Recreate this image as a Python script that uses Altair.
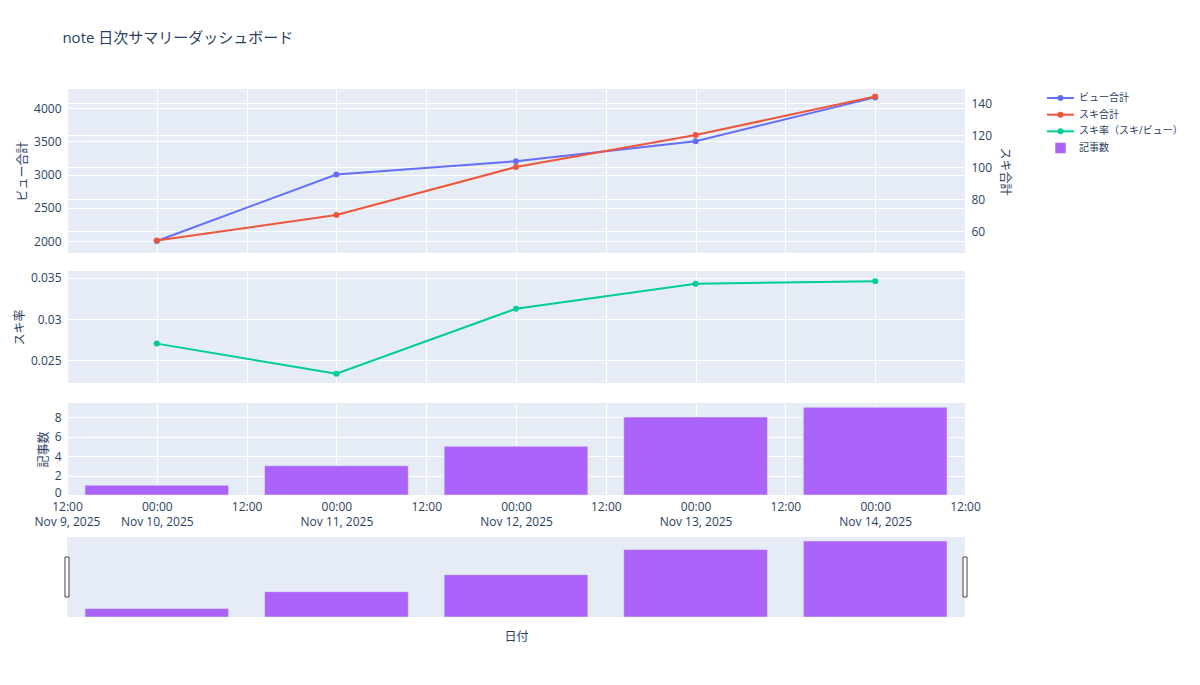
import altair as alt
import pandas as pd

# ---- data ----
dates = ["2025-11-10T00:00:00Z", "2025-11-11T00:00:00Z", "2025-11-12T00:00:00Z",
         "2025-11-13T00:00:00Z", "2025-11-14T00:00:00Z"]
views = [2000, 3000, 3200, 3500, 4160]
likes = [54, 70, 100, 120, 144]
articles = [1, 3, 5, 8, 9]

series_names = ["ビュー合計", "スキ合計", "スキ率（スキ/ビュー）", "記事数"]
series_kinds = ["line", "line", "line", "box"]
series_colors = ["#636EFA", "#EF553B", "#00CC96", "#AB63FA"]

view_ticks = [2000, 2500, 3000, 3500, 4000]
like_ticks = [60, 80, 100, 120, 140]
rate_ticks = [0.025, 0.03, 0.035]
article_ticks = [0, 2, 4, 6, 8]

tick_times = ["2025-11-09T12:00:00Z", "2025-11-10T00:00:00Z", "2025-11-10T12:00:00Z",
              "2025-11-11T00:00:00Z", "2025-11-11T12:00:00Z", "2025-11-12T00:00:00Z",
              "2025-11-12T12:00:00Z", "2025-11-13T00:00:00Z", "2025-11-13T12:00:00Z",
              "2025-11-14T00:00:00Z", "2025-11-14T12:00:00Z"]

df = pd.DataFrame({"date": dates, "views": views, "likes": likes, "articles": articles})
df["rate"] = df["likes"] / df["views"]

def ms(s):
    return int(pd.Timestamp(s).value // 10**6)

tick_ms = [ms(t) for t in tick_times]
x_domain = [tick_ms[0], tick_ms[-1]]

FONT = "Open Sans, Noto Sans CJK JP, sans-serif"
TXT = "#2a3f5f"
BG = "#E5ECF6"
W = 898

xscale = alt.Scale(type="utc", domain=x_domain, nice=False)
x_nolabel = alt.Axis(values=tick_ms, labels=False, grid=True, title=None)

label_expr = (
    "(utchours(datum.value) == 0 || (utchours(datum.value) == 12 && utcdate(datum.value) == 9)) ? "
    "[utcFormat(datum.value, '%H:%M'), utcFormat(datum.value, '%b %-d, %Y')] : "
    "utcFormat(datum.value, '%H:%M')"
)
x_label = alt.Axis(values=tick_ms, labelExpr=label_expr, grid=True, title=None,
                   labelPadding=6, labelLineHeight=15, labelAngle=0,
                   labelOverlap=False, labelFlush=False)

base = alt.Chart(df)

# ---- panel 1 ----
views_line = base.mark_line(
    color=series_colors[0], strokeWidth=2,
    point=alt.OverlayMarkDef(color=series_colors[0], size=36, filled=True, opacity=1),
).encode(
    x=alt.X("date:T", scale=xscale, axis=x_nolabel),
    y=alt.Y("views:Q", scale=alt.Scale(domain=[1820, 4286], nice=False, zero=False),
            axis=alt.Axis(values=view_ticks, format="d", title="ビュー合計", grid=True)),
)
likes_line = base.mark_line(
    color=series_colors[1], strokeWidth=2,
    point=alt.OverlayMarkDef(color=series_colors[1], size=36, filled=True, opacity=1),
).encode(
    x=alt.X("date:T", scale=xscale, axis=x_nolabel),
    y=alt.Y("likes:Q", scale=alt.Scale(domain=[46.25, 148.75], nice=False, zero=False),
            axis=alt.Axis(values=like_ticks, format="d", title="スキ合計", orient="right",
                          grid=True, titlePadding=6)),
)
p1 = alt.layer(views_line, likes_line).resolve_scale(y="independent").properties(
    width=W, height=164)

# ---- panel 2 ----
p2 = base.mark_line(
    color=series_colors[2], strokeWidth=2,
    point=alt.OverlayMarkDef(color=series_colors[2], size=36, filled=True, opacity=1),
).encode(
    x=alt.X("date:T", scale=xscale, axis=x_nolabel),
    y=alt.Y("rate:Q", scale=alt.Scale(domain=[0.0222, 0.03585], nice=False, zero=False),
            axis=alt.Axis(values=rate_ticks, format=".3~f", title="スキ率")),
).properties(width=W, height=112)

# ---- panel 3 ----
bars = base.transform_calculate(
    x0="+toDate(datum.date) - 0.4 * 86400000",
    x1="+toDate(datum.date) + 0.4 * 86400000",
)
p3 = bars.mark_rect(color=series_colors[3], stroke=BG, strokeWidth=0.5, opacity=1).encode(
    x=alt.X("x0:T", scale=xscale, axis=x_label),
    x2="x1:T",
    y=alt.Y("articles:Q", scale=alt.Scale(domain=[0, 9.44], nice=False),
            axis=alt.Axis(values=article_ticks, format="d", title="記事数",
                          labelOffset={"condition": {"test": "datum.value == 0",
                                                     "value": -3},
                                       "value": 0})),
    y2=alt.datum(0),
).properties(width=W, height=92)

# ---- range slider ----
slider_bars = bars.mark_rect(color=series_colors[3], stroke=BG, strokeWidth=0.5, opacity=1).encode(
    x=alt.X("x0:T", scale=xscale,
            axis=alt.Axis(labels=False, grid=False, title="日付", titlePadding=14)),
    x2="x1:T",
    y=alt.Y("articles:Q", scale=alt.Scale(domain=[0, 9.47], nice=False), axis=None),
    y2=alt.datum(0),
)
handles_df = pd.DataFrame({"edge": [x_domain[0], x_domain[1]]})
handles = alt.Chart(handles_df).mark_rect(
    fill="white", stroke="#444", strokeWidth=1, xOffset=-2, x2Offset=2
).encode(
    x=alt.X("edge:T", scale=xscale),
    x2="edge:T",
    y=alt.value(20),
    y2=alt.value(60),
)
slider = alt.layer(slider_bars, handles).properties(width=W, height=80)

# ---- legend ----
legend_df = pd.DataFrame({"name": series_names, "kind": series_kinds,
                          "idx": list(range(len(series_names)))})
color_scale = alt.Scale(domain=series_names, range=series_colors)
ly = alt.Y("idx:Q", scale=alt.Scale(domain=[0, 3], range=[9, 59]), axis=None)
lbase = alt.Chart(legend_df)
leg_rule = lbase.transform_filter("datum.kind == 'line'").mark_rule(strokeWidth=2).encode(
    x=alt.value(17), x2=alt.value(44), y=ly,
    color=alt.Color("name:N", scale=color_scale, legend=None))
leg_pt = lbase.transform_filter("datum.kind == 'line'").mark_point(
    filled=True, size=36, opacity=1).encode(
    x=alt.value(30.5), y=ly, color=alt.Color("name:N", scale=color_scale, legend=None))
leg_sq = lbase.transform_filter("datum.kind == 'box'").mark_square(
    size=110, opacity=1).encode(
    x=alt.value(30.5), y=ly, color=alt.Color("name:N", scale=color_scale, legend=None))
leg_txt = lbase.mark_text(align="left", baseline="middle", fontSize=10, font=FONT,
                          color=TXT).encode(
    x=alt.value(49), y=ly, text="name:N")
legend = alt.layer(leg_rule, leg_pt, leg_sq, leg_txt).properties(
    width=140, height=70, view=alt.ViewBackground(fill="white", stroke="white"))

top = alt.vconcat(alt.vconcat(p1, p2, spacing=18), p3, spacing=20)
left = alt.vconcat(top, slider, spacing=10)

chart = alt.hconcat(left, legend, spacing=18).properties(
    title=alt.TitleParams(
        "note 日次サマリーダッシュボード", anchor="start", dx=49, offset=43,
        fontSize=15, color=TXT, font=FONT, fontWeight="normal", frame="bounds"),
    padding={"top": 22, "left": 5, "right": 2, "bottom": 5},
    background="white",
).configure_view(
    fill=BG, stroke=None
).configure_axis(
    labelColor=TXT, labelFontSize=12, labelFont=FONT,
    titleColor=TXT, titleFontSize=12, titleFont=FONT, titleFontWeight="normal",
    domain=False, ticks=False, gridColor="white", gridWidth=1, gridOpacity=1,
    labelPadding=6,
)

chart.save("out.html", embed_options={"renderer": "svg", "actions": False})
